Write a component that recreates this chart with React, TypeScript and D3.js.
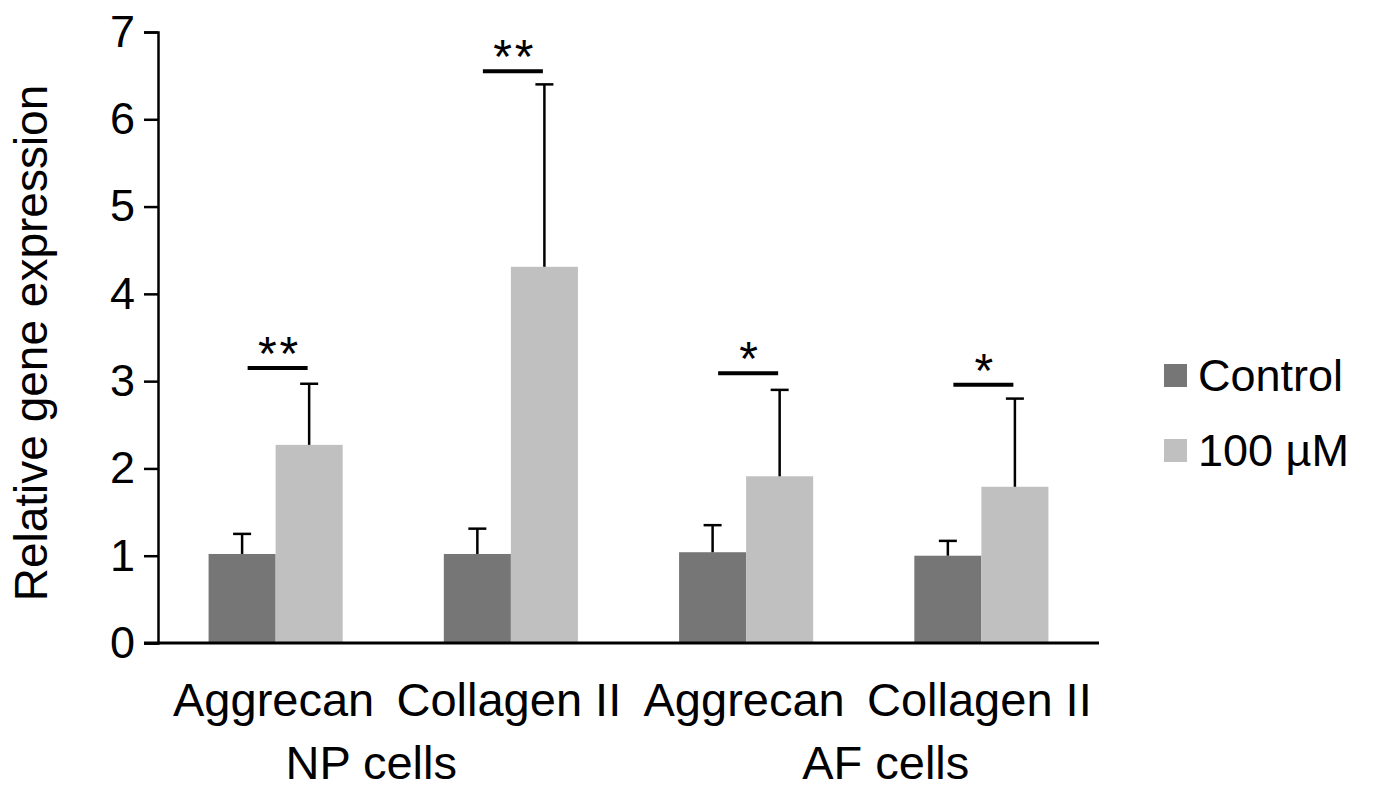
import React, { useEffect, useRef } from "react";
import * as d3 from "d3";

const categories = ["Aggrecan NP", "Collagen II NP", "Aggrecan AF", "Collagen II AF"];
const categoryLabels = ["Aggrecan", "Collagen II", "Aggrecan", "Collagen II"];
const groupLabels = ["NP cells", "AF cells"];
const seriesNames = ["Control", "100 µM"];

const controlValues = [1.02, 1.02, 1.04, 1.0];
const controlErrors = [0.23, 0.29, 0.31, 0.17];
const treatedValues = [2.27, 4.31, 1.91, 1.79];
const treatedErrors = [0.7, 2.09, 0.99, 1.01];

const sigLevels = [3.15, 6.55, 3.09, 2.96];
const sigMarks = ["**", "**", "*", "*"];

const yTicks = [0, 1, 2, 3, 4, 5, 6, 7];

const colors = ["#767676", "#c0c0c0"];

export default function App() {
  const svgRef = useRef<SVGSVGElement>(null);

  useEffect(() => {
    const width = 1374;
    const height = 789;
    const left = 158;
    const right = 1099;
    const top = 32;
    const bottom = 643;
    const font = "'Liberation Sans', Arial, sans-serif";

    const svg = d3.select(svgRef.current);
    svg.selectAll("*").remove();
    svg.attr("width", width).attr("height", height);

    const x = d3
      .scaleBand()
      .domain(categories)
      .range([left, right])
      .paddingInner(0.43)
      .paddingOuter(0.215);

    const xSub = d3.scaleBand().domain(seriesNames).range([0, x.bandwidth()]);

    const y = d3.scaleLinear().domain([0, 7]).range([bottom, top]);

    const rows = categories.map((c, i) => [
      { cat: c, s: seriesNames[0], v: controlValues[i], e: controlErrors[i] },
      { cat: c, s: seriesNames[1], v: treatedValues[i], e: treatedErrors[i] },
    ]).flat();

    // bars
    svg
      .append("g")
      .selectAll("rect")
      .data(rows)
      .enter()
      .append("rect")
      .attr("x", (d) => x(d.cat)! + xSub(d.s)!)
      .attr("y", (d) => y(d.v))
      .attr("width", xSub.bandwidth())
      .attr("height", (d) => y(0) - y(d.v))
      .attr("fill", (d) => colors[seriesNames.indexOf(d.s)]);

    // error bars (upper only)
    const err = svg.append("g").attr("stroke", "#000").attr("stroke-width", 2.5);
    rows.forEach((d) => {
      const cx = x(d.cat)! + xSub(d.s)! + xSub.bandwidth() / 2;
      err
        .append("line")
        .attr("x1", cx)
        .attr("x2", cx)
        .attr("y1", y(d.v))
        .attr("y2", y(d.v + d.e));
      err
        .append("line")
        .attr("x1", cx - 9)
        .attr("x2", cx + 9)
        .attr("y1", y(d.v + d.e))
        .attr("y2", y(d.v + d.e));
    });

    // significance
    categories.forEach((c, i) => {
      const cx = x(c)! + x.bandwidth() / 2 + 2;
      svg
        .append("line")
        .attr("x1", cx - 30)
        .attr("x2", cx + 30)
        .attr("y1", y(sigLevels[i]))
        .attr("y2", y(sigLevels[i]))
        .attr("stroke", "#000")
        .attr("stroke-width", 4);
      svg
        .append("text")
        .attr("x", cx + 2)
        .attr("y", y(sigLevels[i]) + 2)
        .attr("text-anchor", "middle")
        .style("font-family", font)
        .style("font-size", "48px")
        .style("letter-spacing", "3px")
        .text(sigMarks[i]);
    });

    // y axis
    const yAxis = d3
      .axisLeft(y)
      .tickValues(yTicks)
      .tickFormat(d3.format("d"))
      .tickSize(14)
      .tickSizeOuter(14)
      .tickPadding(9);
    const yg = svg.append("g").attr("transform", `translate(${left},0)`).call(yAxis);
    yg.select(".domain").attr("stroke-width", 2.5);
    yg.selectAll(".tick line").attr("stroke-width", 2.5);
    yg.selectAll(".tick text")
      .style("font-family", font)
      .style("font-size", "45px")
      .attr("fill", "#000");

    // x axis baseline
    svg
      .append("line")
      .attr("x1", left - 14)
      .attr("x2", right)
      .attr("y1", bottom)
      .attr("y2", bottom)
      .attr("stroke", "#000")
      .attr("stroke-width", 3);

    // category labels
    svg
      .append("g")
      .selectAll("text")
      .data(categories)
      .enter()
      .append("text")
      .attr("x", (d) => x(d)! + x.bandwidth() / 2 - 2)
      .attr("y", 716)
      .attr("text-anchor", "middle")
      .style("font-family", font)
      .style("font-size", "47px")
      .text((d, i) => categoryLabels[i]);

    const groupOffsets = [-22, 22];
    groupLabels.forEach((g, i) => {
      const a = x(categories[i * 2])! + x.bandwidth() / 2;
      const b = x(categories[i * 2 + 1])! + x.bandwidth() / 2;
      svg
        .append("text")
        .attr("x", (a + b) / 2 + groupOffsets[i])
        .attr("y", 779)
        .attr("text-anchor", "middle")
        .style("font-family", font)
        .style("font-size", "47px")
        .text(g);
    });

    // y label
    svg
      .append("text")
      .attr("transform", "translate(47,343) rotate(-90)")
      .attr("text-anchor", "middle")
      .style("font-family", font)
      .style("font-size", "46px")
      .text("Relative gene expression");

    // legend
    const legend = svg.append("g").attr("transform", "translate(1164,364)");
    seriesNames.forEach((s, i) => {
      legend
        .append("rect")
        .attr("x", 0)
        .attr("y", i * 75)
        .attr("width", 23)
        .attr("height", 23)
        .attr("fill", colors[i]);
      legend
        .append("text")
        .attr("x", 34)
        .attr("y", i * 75 + 27)
        .style("font-family", font)
        .style("font-size", "45px")
        .text(s);
    });
  }, []);

  return (
    <div>
      <svg ref={svgRef} style={{ position: "absolute", left: 0, top: 0, background: "#fff" }}></svg>
    </div>
  );
}
